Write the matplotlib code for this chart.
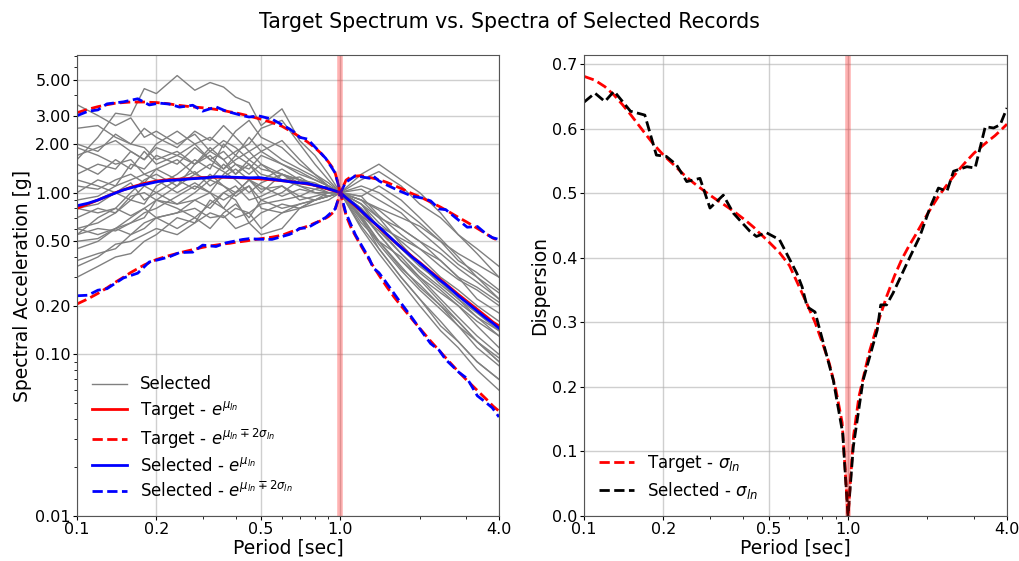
import numpy as np
import matplotlib
matplotlib.use("Agg")
import matplotlib.pyplot as plt
from matplotlib.ticker import FixedLocator, FixedFormatter, NullFormatter

# ---------------- data ----------------
# periods used for the individual selected records
rec_periods = [0.1, 0.12, 0.14, 0.16, 0.18, 0.2, 0.24, 0.28, 0.32, 0.36, 0.4, 0.45, 0.5,
               0.6, 0.7, 0.8, 0.9, 1.0, 1.2, 1.4, 1.7, 2.0, 2.4, 2.8, 3.3, 4.0]
records = [
    [1.6, 2.2, 3.1, 3.0, 4.4, 4.1, 5.3, 4.3, 4.8, 4.5, 3.9, 3.6, 2.6, 3.3, 2.1, 1.7, 1.3, 1.0, 0.72, 0.5, 0.34, 0.27, 0.2, 0.16, 0.12, 0.09],
    [3.5, 3.0, 2.6, 2.9, 2.2, 2.4, 2.0, 2.3, 1.8, 2.1, 1.9, 1.6, 1.8, 1.5, 1.35, 1.2, 1.1, 1.0, 0.85, 0.6, 0.42, 0.32, 0.25, 0.2, 0.15, 0.11],
    [2.0, 1.8, 2.3, 2.0, 2.5, 2.2, 1.9, 2.4, 2.1, 2.6, 2.2, 1.8, 2.0, 1.6, 1.4, 1.25, 1.1, 1.0, 0.95, 0.72, 0.55, 0.45, 0.38, 0.3, 0.26, 0.21],
    [1.3, 1.5, 1.4, 1.8, 1.6, 2.0, 2.4, 2.0, 2.2, 1.9, 2.4, 2.8, 2.2, 1.9, 1.5, 1.3, 1.15, 1.0, 0.75, 0.55, 0.38, 0.3, 0.22, 0.17, 0.13, 0.1],
    [1.0, 1.2, 1.1, 1.5, 1.4, 1.7, 1.5, 1.9, 1.6, 1.4, 1.7, 1.5, 1.3, 1.2, 1.25, 1.1, 1.05, 1.0, 1.3, 1.5, 1.2, 1.0, 0.75, 0.55, 0.42, 0.3],
    [0.55, 0.7, 0.8, 1.0, 1.2, 1.3, 1.1, 1.5, 1.8, 1.6, 1.3, 1.5, 1.2, 1.4, 1.2, 1.15, 1.05, 1.0, 1.1, 1.0, 0.8, 0.65, 0.5, 0.38, 0.32, 0.25],
    [0.45, 0.5, 0.6, 0.65, 0.75, 0.8, 0.95, 1.1, 1.0, 1.3, 1.5, 1.4, 1.7, 1.5, 1.3, 1.2, 1.1, 1.0, 0.9, 0.8, 0.7, 0.62, 0.5, 0.42, 0.36, 0.3],
    [0.3, 0.35, 0.4, 0.42, 0.5, 0.55, 0.7, 0.65, 0.9, 0.8, 1.0, 1.2, 1.0, 1.3, 1.15, 1.1, 1.05, 1.0, 0.65, 0.5, 0.4, 0.3, 0.24, 0.2, 0.16, 0.13],
    [0.55, 0.6, 0.58, 0.65, 0.7, 0.9, 0.8, 0.7, 0.85, 1.0, 0.9, 0.65, 0.55, 0.6, 0.8, 0.9, 0.95, 1.0, 0.7, 0.45, 0.3, 0.22, 0.15, 0.12, 0.09, 0.07],
    [0.8, 0.85, 1.0, 0.9, 1.1, 1.0, 1.2, 1.05, 1.3, 1.1, 1.0, 1.2, 1.1, 0.95, 1.05, 1.0, 0.95, 1.0, 0.72, 0.58, 0.42, 0.33, 0.26, 0.21, 0.17, 0.13],
    [1.9, 1.7, 1.5, 1.6, 1.3, 1.4, 1.2, 1.35, 1.1, 1.25, 1.4, 1.2, 1.05, 1.1, 0.95, 1.05, 1.0, 1.0, 0.78, 0.55, 0.38, 0.29, 0.21, 0.16, 0.12, 0.09],
    [0.6, 0.65, 0.75, 0.9, 0.85, 1.1, 1.3, 1.6, 1.4, 2.0, 1.7, 2.2, 1.8, 2.1, 1.6, 1.3, 1.1, 1.0, 0.85, 0.65, 0.5, 0.4, 0.3, 0.25, 0.2, 0.16],
    [1.1, 1.05, 1.2, 1.3, 1.15, 1.4, 1.6, 1.3, 1.5, 1.35, 1.2, 1.0, 1.15, 1.3, 1.1, 1.0, 1.0, 1.0, 1.2, 1.35, 1.1, 0.85, 0.7, 0.55, 0.45, 0.35],
    [0.5, 0.52, 0.6, 0.7, 0.8, 0.9, 0.85, 1.0, 1.2, 1.1, 0.95, 1.1, 0.9, 0.8, 0.85, 0.9, 0.95, 1.0, 0.6, 0.42, 0.28, 0.2, 0.14, 0.11, 0.08, 0.06],
    [0.38, 0.42, 0.45, 0.55, 0.6, 0.7, 0.75, 0.9, 0.8, 1.0, 1.1, 0.9, 0.95, 1.1, 0.9, 0.95, 1.0, 1.0, 0.8, 0.62, 0.52, 0.45, 0.35, 0.29, 0.25, 0.2],
    [1.5, 1.3, 1.6, 1.4, 1.8, 1.5, 1.7, 2.0, 1.6, 1.8, 1.5, 1.3, 1.5, 1.2, 1.1, 1.05, 1.1, 1.0, 0.7, 0.5, 0.35, 0.26, 0.2, 0.15, 0.11, 0.085],
    [0.7, 0.8, 0.75, 0.95, 1.0, 0.9, 1.1, 1.3, 1.2, 1.5, 1.3, 1.6, 1.4, 1.3, 1.2, 1.1, 1.05, 1.0, 0.95, 1.1, 0.9, 0.7, 0.52, 0.4, 0.3, 0.22],
    [0.9, 0.95, 1.1, 1.2, 1.3, 1.2, 1.0, 1.15, 1.0, 0.9, 1.0, 1.1, 0.8, 0.75, 0.8, 0.85, 0.9, 1.0, 0.68, 0.48, 0.33, 0.25, 0.19, 0.15, 0.12, 0.095],
    [0.35, 0.4, 0.48, 0.5, 0.55, 0.6, 0.55, 0.65, 0.75, 0.7, 0.8, 0.75, 0.85, 0.9, 0.95, 0.9, 0.95, 1.0, 0.85, 0.7, 0.6, 0.5, 0.42, 0.34, 0.28, 0.22],
    [1.2, 1.1, 1.0, 1.15, 0.9, 1.0, 0.85, 0.9, 1.0, 0.8, 0.7, 0.75, 0.6, 0.75, 0.85, 0.9, 0.95, 1.0, 0.9, 0.7, 0.48, 0.36, 0.27, 0.22, 0.17, 0.14],
    [2.5, 2.6, 2.2, 2.0, 1.9, 1.6, 1.8, 1.5, 1.7, 1.4, 1.6, 1.8, 1.5, 1.3, 1.2, 1.1, 1.05, 1.0, 0.62, 0.45, 0.3, 0.22, 0.16, 0.12, 0.09, 0.07],
    [0.6, 0.55, 0.6, 0.55, 0.65, 0.7, 0.6, 0.7, 0.6, 0.75, 0.85, 0.7, 0.9, 1.0, 1.2, 1.1, 1.0, 1.0, 1.05, 0.9, 0.75, 0.58, 0.45, 0.36, 0.3, 0.24],
    [1.7, 1.9, 2.1, 1.8, 1.6, 1.9, 1.7, 1.5, 1.9, 1.6, 1.8, 2.0, 2.5, 2.8, 2.0, 1.5, 1.2, 1.0, 0.8, 0.6, 0.45, 0.35, 0.28, 0.22, 0.18, 0.14],
    [0.8, 0.75, 0.8, 0.72, 0.8, 0.7, 0.75, 0.8, 0.7, 0.72, 0.6, 0.65, 0.75, 0.85, 0.8, 0.9, 1.0, 1.0, 0.9, 0.78, 0.6, 0.5, 0.38, 0.3, 0.22, 0.18],
]

# target (conditional) spectrum: median and log-standard deviation
tgt_periods = [0.1, 0.11, 0.12, 0.13, 0.14, 0.15, 0.16, 0.17, 0.18, 0.19, 0.2, 0.22, 0.24, 0.26,
               0.28, 0.3, 0.32, 0.34, 0.36, 0.38, 0.4, 0.42, 0.44, 0.46, 0.48, 0.5, 0.55, 0.6,
               0.65, 0.7, 0.75, 0.8, 0.85, 0.9, 0.95, 1.0, 1.05, 1.1, 1.2, 1.3, 1.4, 1.5, 1.6,
               1.7, 1.8, 1.9, 2.0, 2.2, 2.4, 2.6, 2.8, 3.0, 3.2, 3.4, 3.6, 3.8, 4.0]
tgt_median = [0.80, 0.85, 0.90, 0.95, 1.00, 1.04, 1.08, 1.11, 1.14, 1.16, 1.18, 1.20, 1.21, 1.22,
              1.23, 1.24, 1.245, 1.245, 1.245, 1.24, 1.24, 1.235, 1.23, 1.225, 1.22, 1.215, 1.20, 1.185,
              1.17, 1.15, 1.13, 1.11, 1.08, 1.05, 1.025, 1.0, 0.93, 0.87, 0.77, 0.68, 0.61, 0.55, 0.50,
              0.46, 0.425, 0.395, 0.37, 0.325, 0.29, 0.26, 0.235, 0.215, 0.198, 0.183, 0.17, 0.158, 0.15]
tgt_sigma = [0.681, 0.675, 0.665, 0.652, 0.637, 0.622, 0.607, 0.593, 0.580, 0.569, 0.559, 0.543, 0.528, 0.516,
             0.506, 0.497, 0.489, 0.482, 0.475, 0.468, 0.461, 0.454, 0.447, 0.439, 0.432, 0.425, 0.408, 0.388,
             0.357, 0.328, 0.300, 0.268, 0.236, 0.195, 0.145, 0.0, 0.125, 0.185, 0.252, 0.300, 0.340, 0.372, 0.398,
             0.418, 0.435, 0.452, 0.468, 0.495, 0.516, 0.534, 0.549, 0.562, 0.572, 0.581, 0.589, 0.598, 0.607]

# statistics of the selected set
sel_periods = [0.1, 0.11, 0.12, 0.13, 0.15, 0.17, 0.188, 0.205, 0.224, 0.245, 0.275, 0.3, 0.337, 0.368,
               0.425, 0.45, 0.49, 0.55, 0.64, 0.67, 0.70, 0.75, 0.88, 0.955, 1.0, 1.047, 1.14, 1.29,
               1.33, 1.40, 1.48, 1.67, 1.87, 2.05, 2.2, 2.37, 2.51, 2.82, 3.03, 3.31, 3.56, 3.77, 4.0]
sel_median = [0.83, 0.86, 0.90, 0.95, 1.04, 1.10, 1.14, 1.175, 1.19, 1.20, 1.22, 1.23, 1.255, 1.25,
              1.24, 1.235, 1.24, 1.21, 1.17, 1.16, 1.15, 1.14, 1.07, 1.025, 1.0, 0.935, 0.835, 0.69,
              0.66, 0.615, 0.565, 0.47, 0.40, 0.355, 0.322, 0.29, 0.27, 0.228, 0.208, 0.185, 0.168, 0.157, 0.145]
sel_sigma = [0.641, 0.655, 0.642, 0.658, 0.627, 0.621, 0.559, 0.557, 0.544, 0.518, 0.523, 0.477, 0.497, 0.469,
             0.441, 0.433, 0.439, 0.428, 0.376, 0.355, 0.324, 0.316, 0.21, 0.128, 0.0, 0.107, 0.21, 0.288,
             0.327, 0.327, 0.345, 0.391, 0.433, 0.479, 0.508, 0.503, 0.534, 0.541, 0.539, 0.603, 0.601, 0.606, 0.632]

T_star = 1.0
x_ticks = [0.1, 0.2, 0.5, 1.0, 4.0]
x_ticklabels = ["0.1", "0.2", "0.5", "1.0", "4.0"]
y_ticks_left = [0.01, 0.1, 0.2, 0.5, 1.0, 2.0, 3.0, 5.0]
y_ticklabels_left = ["0.01", "0.10", "0.20", "0.50", "1.00", "2.00", "3.00", "5.00"]
y_ticks_right = [0.0, 0.1, 0.2, 0.3, 0.4, 0.5, 0.6, 0.7]
y_ticklabels_right = ["0.0", "0.1", "0.2", "0.3", "0.4", "0.5", "0.6", "0.7"]

# ---------------- plot ----------------
plt.rcParams["font.family"] = ["DejaVu Sans"]
plt.rcParams["mathtext.fontset"] = "dejavusans"
fig = plt.figure(figsize=(10.19, 5.61), dpi=100)
ax1 = fig.add_axes([0.0756, 0.0802, 0.4141, 0.8217])
ax2 = fig.add_axes([0.5731, 0.0802, 0.4151, 0.8217])

tp = np.array(tgt_periods)
tm = np.array(tgt_median)
ts = np.array(tgt_sigma)
sp = np.array(sel_periods)
sm = np.array(sel_median)
ss = np.array(sel_sigma)

for i, r in enumerate(records):
    ax1.loglog(rec_periods, r, color="gray", lw=1.0, label="Selected" if i == 0 else None)
ax1.loglog(tp, tm, color="red", lw=2, label=r"Target - $e^{\mu_{ln}}$")
ax1.loglog(tp, tm * np.exp(2 * ts), color="red", lw=2, ls="--", label=r"Target - $e^{\mu_{ln}\mp 2\sigma_{ln}}$")
ax1.loglog(tp, tm * np.exp(-2 * ts), color="red", lw=2, ls="--")
ax1.loglog(sp, sm, color="blue", lw=2, label=r"Selected - $e^{\mu_{ln}}$")
ax1.loglog(sp, sm * np.exp(2 * ss), color="blue", lw=2, ls="--", label=r"Selected - $e^{\mu_{ln}\mp 2\sigma_{ln}}$")
ax1.loglog(sp, sm * np.exp(-2 * ss), color="blue", lw=2, ls="--")
ax1.axvline(T_star, color="red", alpha=0.3, lw=4)

ax2.semilogx(tp, ts, color="red", lw=2, ls="--", label=r"Target - $\sigma_{ln}$")
ax2.semilogx(sp, ss, color="black", lw=2, ls="--", label=r"Selected - $\sigma_{ln}$")
ax2.axvline(T_star, color="red", alpha=0.3, lw=4)

ax1.set_ylim(0.01, 7.1)
ax1.yaxis.set_major_locator(FixedLocator(y_ticks_left))
ax1.yaxis.set_major_formatter(FixedFormatter(y_ticklabels_left))
ax1.yaxis.set_minor_formatter(NullFormatter())
ax1.set_ylabel("Spectral Acceleration [g]", fontsize=13.5, labelpad=2)

ax2.set_ylim(0, 0.714)
ax2.yaxis.set_major_locator(FixedLocator(y_ticks_right))
ax2.yaxis.set_major_formatter(FixedFormatter(y_ticklabels_right))
ax2.set_ylabel("Dispersion", fontsize=13.5, labelpad=2)

for ax in (ax1, ax2):
    ax.set_xlim(0.1, 4.0)
    ax.xaxis.set_major_locator(FixedLocator(x_ticks))
    ax.xaxis.set_major_formatter(FixedFormatter(x_ticklabels))
    ax.xaxis.set_minor_formatter(NullFormatter())
    ax.grid(True, which="major", color="#b0b0b0", alpha=0.6, lw=1)
    ax.set_xlabel("Period [sec]", fontsize=13.5, labelpad=1)
    ax.tick_params(which="major", labelsize=11.5, length=3, pad=1.5)
    ax.tick_params(which="minor", length=2)
    for s in ax.spines.values():
        s.set_color("#555555")
    ax.legend(loc="lower left", frameon=False, fontsize=12, handlelength=2.1,
              labelspacing=0.35)

fig.text(0.5, 1 - 28 / 561, "Target Spectrum vs. Spectra of Selected Records",
         fontsize=14.8, ha="center", va="baseline")
fig.savefig("out.png", dpi=100)
